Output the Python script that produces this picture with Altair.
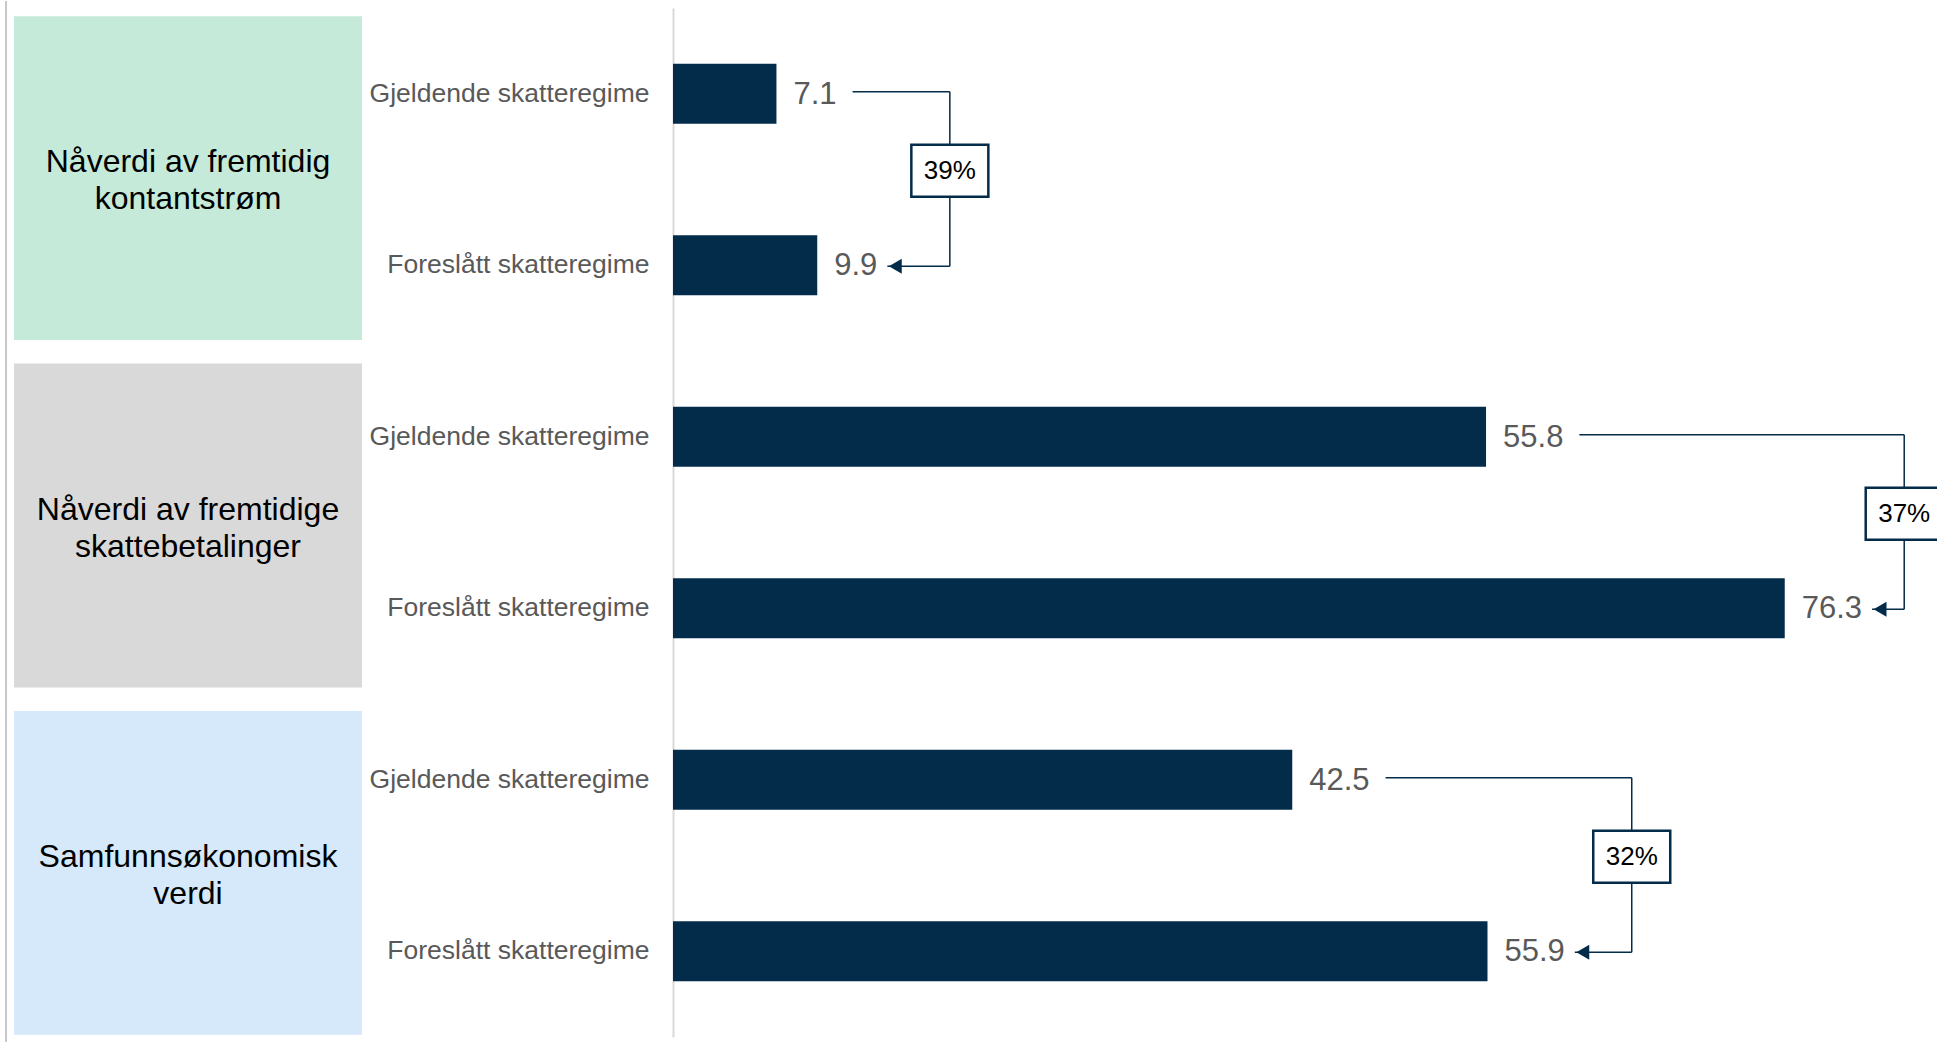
import altair as alt
import pandas as pd

# ---------------- data ----------------
groups = [
    "Nåverdi av fremtidig kontantstrøm",
    "Nåverdi av fremtidige skattebetalinger",
    "Samfunnsøkonomisk verdi",
]
group_titles = [
    "Nåverdi av fremtidig\nkontantstrøm",
    "Nåverdi av fremtidige\nskattebetalinger",
    "Samfunnsøkonomisk\nverdi",
]
group_colors = ["#C5EAD9", "#D9D9D9", "#D5E9FB"]
regimes = ["Gjeldende skatteregime", "Foreslått skatteregime"]
current_values = [7.1, 55.8, 42.5]
proposed_values = [9.9, 76.3, 55.9]
change_labels = ["39%", "37%", "32%"]
bracket_x = [19.0, 84.5, 65.8]

# ---------------- style ----------------
NAVY = "#032B4A"
GREY_TXT = "#595959"
FONT = "Liberation Sans"
W_RIGHT = 1264
H = 1029
X_MAX = 86.75
PPU = W_RIGHT / X_MAX
VAL_FS = 31
VAL_DX = 17
GRP_FS = 32
GRP_LH = 37


def text_w(s, fs):
    return sum(0.278 if c == "." else 0.556 for c in s) * fs


keys = [f"{g}|{r}" for g in groups for r in regimes]

bar_rows = []
for g, c, p in zip(groups, current_values, proposed_values):
    bar_rows.append({"key": f"{g}|{regimes[0]}", "value": c, "label": f"{c:.1f}"})
    bar_rows.append({"key": f"{g}|{regimes[1]}", "value": p, "label": f"{p:.1f}"})
bars_df = pd.DataFrame(bar_rows)

conn_rows = []
for g, c, p, pct, bx in zip(groups, current_values, proposed_values, change_labels, bracket_x):
    start = c + (VAL_DX + text_w(f"{c:.1f}", VAL_FS) + 16) / PPU
    tip = p + (VAL_DX + text_w(f"{p:.1f}", VAL_FS) + 10) / PPU
    conn_rows.append({
        "key": f"{g}|{regimes[0]}",
        "bot_key": f"{g}|{regimes[1]}",
        "start": start,
        "tip": tip,
        "bx": bx,
        "pct": pct,
    })
conn_df = pd.DataFrame(conn_rows)

grp_df = pd.DataFrame({"group": groups, "title": group_titles, "color": group_colors})

# ---------------- left panel: group boxes ----------------
W_LEFT = 348
gscale = alt.Scale(domain=groups, paddingInner=0.068, paddingOuter=0.015)

boxes = alt.Chart(grp_df).mark_rect(yOffset=3, y2Offset=3).encode(
    y=alt.Y("group:N", scale=gscale, axis=None, sort=groups),
    x=alt.value(0),
    x2=alt.value(W_LEFT),
    color=alt.Color("color:N", scale=None),
)
box_text = alt.Chart(grp_df).mark_text(
    lineBreak="\n", fontSize=GRP_FS, lineHeight=GRP_LH, align="center", baseline="middle",
    color="black", font=FONT, dy=-13,
).encode(
    y=alt.Y("group:N", scale=gscale, axis=None, sort=groups),
    x=alt.value(W_LEFT / 2),
    text="title:N",
)
frame = alt.Chart(pd.DataFrame({"frame": [0]})).mark_rule(
    color="#C8C8C8", strokeWidth=2
).encode(x=alt.value(-8), y=alt.value(-7), y2=alt.value(1034))

left = alt.layer(frame, boxes, box_text).properties(width=W_LEFT, height=H)

# ---------------- right panel: bars + connectors ----------------
yscale = alt.Scale(domain=keys, paddingInner=0.65, paddingOuter=0.325)
xscale = alt.Scale(domain=[0, X_MAX], nice=False, zero=True)
y_axis = alt.Axis(
    title=None,
    labelExpr="split(datum.value, '|')[1]", labelFontSize=26.5, labelColor=GREY_TXT,
    labelFont=FONT, ticks=False, domainColor="#D9D9D9", domainWidth=2,
    labelPadding=24, labelLimit=400, grid=False,
)


def ykey(field):
    return alt.Y(f"{field}:N", scale=yscale, sort=keys, axis=y_axis, title=None)


bars = alt.Chart(bars_df).mark_bar(color=NAVY).encode(
    y=ykey("key"),
    x=alt.X("value:Q", scale=xscale, axis=None),
)
vals = alt.Chart(bars_df).mark_text(
    align="left", baseline="middle", dx=VAL_DX, dy=1, fontSize=VAL_FS, color=GREY_TXT, font=FONT
).encode(
    y=ykey("key"),
    x=alt.X("value:Q", scale=xscale, axis=None),
    text="label:N",
)

top_rule = alt.Chart(conn_df).mark_rule(color=NAVY, strokeWidth=1.5, yOffset=-2).encode(
    y=ykey("key"),
    x=alt.X("start:Q", scale=xscale, axis=None),
    x2="bx:Q",
)
vert_rule = alt.Chart(conn_df).mark_rule(
    color=NAVY, strokeWidth=1.5, yOffset=-2, y2Offset=1
).encode(
    x=alt.X("bx:Q", scale=xscale, axis=None),
    y=ykey("key"),
    y2="bot_key:N",
)
bot_rule = alt.Chart(conn_df).mark_rule(color=NAVY, strokeWidth=1.5, yOffset=1).encode(
    y=ykey("bot_key"),
    x=alt.X("tip:Q", scale=xscale, axis=None),
    x2="bx:Q",
)
arrow = alt.Chart(conn_df).mark_point(
    shape="triangle-left", filled=True, size=220, color=NAVY, opacity=1, xOffset=8, yOffset=1
).encode(
    y=ykey("bot_key"),
    x=alt.X("tip:Q", scale=xscale, axis=None),
)
pct_box = alt.Chart(conn_df).mark_point(
    shape="M-1,-0.675L1,-0.675L1,0.675L-1,0.675Z", size=77 * 77, filled=True,
    fill="white", stroke=NAVY, strokeWidth=2.5, opacity=1, yOffset=77, clip=True,
).encode(
    y=ykey("key"),
    x=alt.X("bx:Q", scale=xscale, axis=None),
)
pct_text = alt.Chart(conn_df).mark_text(
    fontSize=26, color="black", font=FONT, align="center", baseline="middle",
    yOffset=77, clip=True,
).encode(
    y=ykey("key"),
    x=alt.X("bx:Q", scale=xscale, axis=None),
    text="pct:N",
)

right = alt.layer(
    bars, vals, top_rule, vert_rule, bot_rule, arrow, pct_box, pct_text
).properties(width=W_RIGHT, height=H)

chart = alt.hconcat(left, right, spacing=7).properties(
    padding={"left": 5, "top": 0, "right": 0, "bottom": 0}
).configure(font=FONT).configure_view(stroke=None)

chart.save("out.html", embed_options={"renderer": "svg", "actions": False})
